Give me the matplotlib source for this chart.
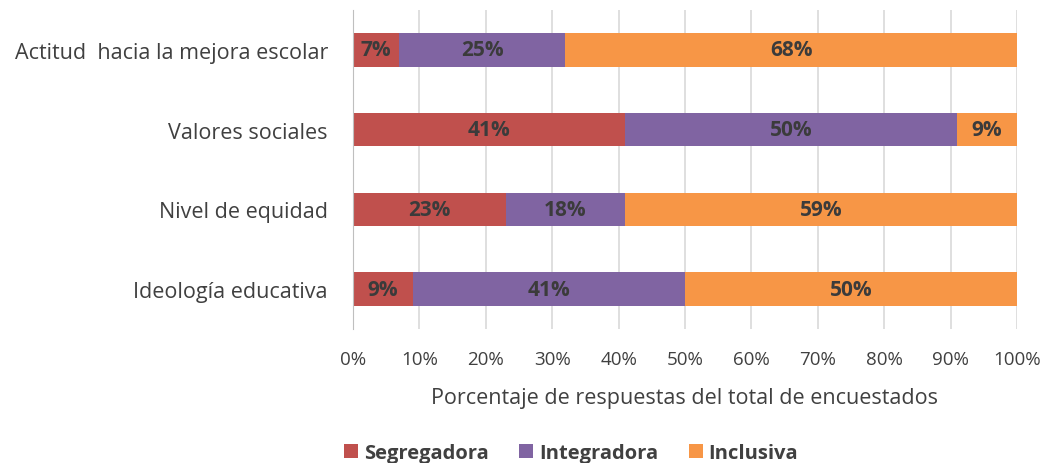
import matplotlib
matplotlib.use("Agg")
import matplotlib.pyplot as plt
import numpy as np

categories = ["Ideología educativa", "Nivel de equidad", "Valores sociales",
              "Actitud  hacia la mejora escolar"]
series_names = ["Segregadora", "Integradora", "Inclusiva"]
segregadora = [9, 23, 41, 7]
integradora = [41, 18, 50, 25]
inclusiva = [50, 59, 9, 68]
xtick_values = [0, 10, 20, 30, 40, 50, 60, 70, 80, 90, 100]
xlabel = "Porcentaje de respuestas del total de encuestados"

colors = ["#C0504D", "#8064A2", "#F79646"]
text_color = "#404040"
font = "Open Sans"

fig = plt.figure(figsize=(10.48, 4.64), dpi=100)
ax = fig.add_axes([0.3368, 0.2888, 0.6336, 0.6872])

y = np.arange(len(categories))
left = np.zeros(len(categories))
handles = []
for vals, name, c in zip([segregadora, integradora, inclusiva], series_names, colors):
    vals = np.array(vals, dtype=float)
    b = ax.barh(y, vals, left=left, height=0.42, color=c, label=name, zorder=3)
    handles.append(b)
    for yi, l, v in zip(y, left, vals):
        ax.text(l + v / 2, yi, f"{int(v)}%", ha="center", va="center",
                fontsize=15, fontweight="bold", color="#3b3b3b", family=font, zorder=4)
    left += vals

ax.set_xlim(0, 100)
ax.set_ylim(-0.5, len(categories) - 0.5)
ax.set_xticks(xtick_values)
ax.set_xticklabels([f"{v}%" for v in xtick_values], fontsize=13.5, color=text_color, family=font)
ax.set_yticks(y)
ax.set_yticklabels(categories, fontsize=15.5, color=text_color, family=font)
ax.tick_params(axis="both", length=0)
ax.tick_params(axis="x", pad=15)
ax.tick_params(axis="y", pad=18)
ax.grid(axis="x", color="#d9d9d9", linewidth=1.2, zorder=0)
for s in ["top", "right", "bottom"]:
    ax.spines[s].set_visible(False)
ax.spines["left"].set_color("#bfbfbf")
ax.spines["left"].set_zorder(5)
ax.set_xlabel(xlabel, fontsize=15.5, color=text_color, family=font, labelpad=14)

leg = fig.legend(handles=handles, labels=series_names, loc="center", bbox_to_anchor=(0.545, 0.022),
                 ncol=3, frameon=False, handlelength=0.7, handleheight=0.7, handletextpad=0.3,
                 columnspacing=1.5, prop={"family": font, "size": 14.5, "weight": "bold"})
for t in leg.get_texts():
    t.set_color(text_color)

fig.savefig("out.png", dpi=100)
